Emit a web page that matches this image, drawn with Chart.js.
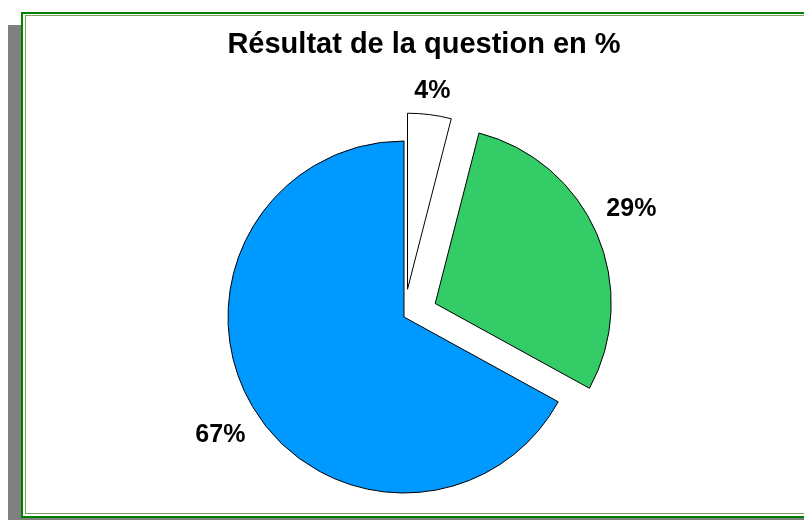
<!DOCTYPE html>
<html>
<head>
<meta charset="utf-8">
<script src="https://cdn.jsdelivr.net/npm/chart.js@4/dist/chart.umd.min.js"></script>
<style>
  html, body { margin: 0; padding: 0; background: #ffffff; width: 804px; height: 520px; overflow: hidden; }
  #shadow { position: absolute; left: 8px; top: 25px; width: 900px; height: 600px; background: #808080; }
  #frame { position: absolute; left: 21px; top: 12px; width: 900px; height: 506px; box-sizing: border-box; border: 2px solid #008000; background: #ffffff; }
  #inner { position: absolute; left: 25px; top: 15px; width: 900px; height: 499px; box-sizing: border-box; border: 1px solid #7fa05a; }
  #title { position: absolute; left: 124px; width: 600px; top: 29px; text-align: center; font: bold 29px "Liberation Sans", Arial, sans-serif; line-height: 29px; color: #000; white-space: nowrap; }
  #wrap { position: absolute; left: 0; top: 0; width: 808px; height: 520px; }
</style>
</head>
<body>
<div id="shadow"></div>
<div id="frame"></div>
<div id="inner"></div>
<div id="wrap"><canvas id="c" width="808" height="520"></canvas></div>
<div id="title">Résultat de la question en %</div>
<script>
const categories = ["Réponse A", "Réponse B", "Réponse C"];
const values = [4, 29, 67];
const valueLabels = ["4%", "29%", "67%"];

// Chart.js moves an arc by offset/4 and also enlarges it; keep the radius and angles
// of exploded slices unchanged so they look like a classic exploded pie.
const explodeFix = {
  id: 'explodeFix',
  afterDatasetsUpdate(chart) {
    const meta = chart.getDatasetMeta(0);
    const R = meta.controller.outerRadius;
    meta.data.forEach(arc => {
      const off = (arc.options.offset || 0) / 4;
      const fix = 1 - Math.sin(Math.min(Math.PI, arc.circumference || 0));
      const ro = off * fix;
      const a = ro / (Math.PI * R) / 2;
      arc.outerRadius = R - ro;
      arc.startAngle -= a;
      arc.endAngle += a;
    });
  }
};

const outsideLabels = {
  id: 'outsideLabels',
  afterDatasetsDraw(chart) {
    const ctx = chart.ctx;
    const meta = chart.getDatasetMeta(0);
    const R = meta.controller.outerRadius;
    ctx.save();
    ctx.font = 'bold 25px "Liberation Sans", Arial, sans-serif';
    ctx.fillStyle = '#000';
    ctx.textAlign = 'center';
    ctx.textBaseline = 'middle';
    meta.data.forEach((arc, i) => {
      const mid = (arc.startAngle + arc.endAngle) / 2;
      const dx = Math.cos(mid), dy = Math.sin(mid);
      const off = (arc.options.offset || 0) / 4;
      const text = valueLabels[i];
      const w = ctx.measureText(text).width;
      const h = 19;
      const ext = Math.abs(dx) * w / 2 + Math.abs(dy) * h / 2;
      const d = off + R + 11 + ext;
      const nudge = Math.sign(dy) * Math.abs(dx) * 10.5;
      ctx.fillText(text, arc.x + dx * d, arc.y + dy * d + nudge);
    });
    ctx.restore();
  }
};

new Chart(document.getElementById('c'), {
  type: 'pie',
  data: {
    labels: categories,
    datasets: [{
      data: values,
      backgroundColor: ["#ffffff", "#33cc66", "#0099ff"],
      borderColor: '#000000',
      borderWidth: 1,
      offset: [112, 136, 0],
      radius: 176
    }]
  },
  options: {
    responsive: false,
    animation: false,
    layout: { padding: { top: 114, bottom: 0, left: 0, right: 0 } },
    plugins: {
      legend: { display: false },
      tooltip: { enabled: false },
      title: { display: false }
    }
  },
  plugins: [explodeFix, outsideLabels]
});
</script>
</body>
</html>
